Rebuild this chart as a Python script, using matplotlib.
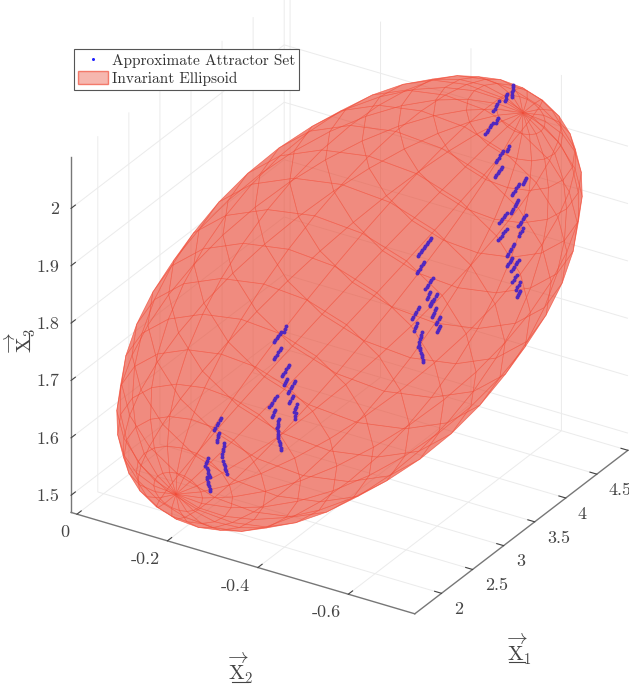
import numpy as np
import matplotlib
matplotlib.use('Agg')
import matplotlib.pyplot as plt
from matplotlib.patches import Patch
from matplotlib.lines import Line2D

plt.rcParams['font.family'] = ['cmr10', 'DejaVu Sans']
plt.rcParams['mathtext.fontset'] = 'cm'
plt.rcParams['axes.unicode_minus'] = False
plt.rcParams['axes.formatter.use_mathtext'] = True
plt.rcParams['grid.color'] = '#ebebeb'
plt.rcParams['grid.linewidth'] = 0.7

center = [3.285, -0.367, 1.78]
axis_a = [0.0, -0.322, -0.071]
axis_b = [-0.6, -0.205, 0.26]
axis_c = [1.3, -0.205, 0.272]
mesh_phase_deg = 5.7
x1_ticks = [2, 2.5, 3, 3.5, 4, 4.5, 5]
x2_ticks = [0, -0.2, -0.4, -0.6]
x3_ticks = [1.5, 1.6, 1.7, 1.8, 1.9, 2]
x2_labels = ['0', '-0.2', '-0.4', '-0.6']
x1_labels = ['2', '2.5', '3', '3.5', '4', '4.5', '5']
x3_labels = ['1.5', '1.6', '1.7', '1.8', '1.9', '2']

attractor_x1 = [
2.809,2.802,2.794,2.772,2.761,2.751,2.740,2.730,2.719,2.772,2.761,2.751,2.740,2.730,2.719,2.832,2.821,2.811,2.800,2.790,2.779,
2.817,2.809,2.802,2.794,2.877,2.866,2.856,2.845,2.835,2.824,2.862,2.852,2.842,2.832,2.892,2.884,2.877,2.869,2.884,2.880,2.877,
2.742,2.730,2.718,2.706,2.694,2.682,2.727,2.719,2.712,2.704,2.757,2.753,2.749,2.746,2.742,2.742,2.746,2.749,2.749,2.753,2.757,2.761,2.764,2.768,2.772,
2.322,2.312,2.301,2.291,2.280,2.270,2.307,2.303,2.300,2.296,2.292,2.345,2.342,2.339,2.336,2.333,2.330,2.337,2.343,2.349,2.355,2.361,2.367,
2.225,2.217,2.210,2.202,2.217,2.223,2.228,2.234,2.240,2.217,2.221,2.225,2.228,2.232,2.236,2.240,
3.903,3.896,3.888,3.933,3.925,3.918,3.911,3.903,3.963,3.953,3.943,3.933,3.963,3.956,3.948,3.941,3.806,3.795,3.785,3.774,3.764,3.753,
3.791,3.783,3.776,3.768,3.828,3.823,3.818,3.813,3.808,3.803,3.798,3.813,3.817,3.821,3.825,3.828,3.832,3.836,
4.510,4.509,4.507,4.506,4.504,4.503,4.465,4.460,4.455,4.450,4.405,4.394,4.383,4.372,4.360,4.398,4.390,4.383,4.360,4.348,4.336,4.324,4.312,4.300,
4.480,4.473,4.465,4.435,4.425,4.414,4.404,4.393,4.383,4.428,4.417,4.407,4.396,4.386,4.375,4.608,4.600,4.593,4.585,4.555,4.545,4.534,4.524,4.513,4.503,
4.548,4.539,4.530,4.522,4.513,4.504,4.495,4.465,4.453,4.441,4.429,4.417,4.405,4.608,4.596,4.584,4.572,4.560,4.548,4.585,4.575,4.565,4.555,
4.465,4.452,4.438,4.425,4.411,4.398,4.518,4.507,4.497,4.486,4.476,4.465,4.503,4.493,4.484,4.475,4.465,4.555,4.543,4.531,4.519,4.507,4.495,
4.540,4.528,4.515,4.503,4.563,4.553,4.543,4.533,4.563,4.555,4.548,4.540,
3.896,3.885,3.874,3.863,3.853,3.842,3.831,3.820,3.809,3.798,3.843,3.833,3.822,3.812,3.801,3.791,3.911,3.899,3.887,3.875,3.863,3.851,3.888,3.881,3.873,3.866,3.941,3.930,3.920,3.909,3.899,3.888]

attractor_x2 = [
-0.2920,-0.2908,-0.2896,-0.2861,-0.2844,-0.2828,-0.2811,-0.2795,-0.2778,-0.2861,-0.2844,-0.2828,-0.2811,-0.2795,-0.2778,-0.2955,-0.2939,-0.2922,-0.2906,-0.2889,-0.2872,
-0.2932,-0.2920,-0.2908,-0.2896,-0.3026,-0.3010,-0.2993,-0.2976,-0.2960,-0.2943,-0.3002,-0.2987,-0.2971,-0.2955,-0.3050,-0.3038,-0.3026,-0.3014,-0.3038,-0.3032,-0.3026,
-0.2813,-0.2795,-0.2776,-0.2757,-0.2738,-0.2719,-0.2790,-0.2778,-0.2766,-0.2754,-0.2837,-0.2831,-0.2825,-0.2819,-0.2813,-0.2813,-0.2819,-0.2825,-0.2825,-0.2831,-0.2837,-0.2843,-0.2849,-0.2855,-0.2861,
-0.2152,-0.2135,-0.2119,-0.2102,-0.2085,-0.2069,-0.2128,-0.2122,-0.2116,-0.2110,-0.2104,-0.2187,-0.2182,-0.2178,-0.2173,-0.2168,-0.2163,-0.2175,-0.2185,-0.2194,-0.2204,-0.2213,-0.2223,
-0.1998,-0.1986,-0.1974,-0.1963,-0.1986,-0.1995,-0.2004,-0.2013,-0.2022,-0.1986,-0.1992,-0.1998,-0.2004,-0.2010,-0.2016,-0.2022,
-0.4645,-0.4633,-0.4621,-0.4692,-0.4680,-0.4669,-0.4657,-0.4645,-0.4740,-0.4724,-0.4708,-0.4692,-0.4740,-0.4728,-0.4716,-0.4704,-0.4491,-0.4475,-0.4458,-0.4442,-0.4425,-0.4409,
-0.4468,-0.4456,-0.4444,-0.4432,-0.4527,-0.4519,-0.4511,-0.4503,-0.4495,-0.4487,-0.4480,-0.4503,-0.4509,-0.4515,-0.4521,-0.4527,-0.4533,-0.4539,
-0.5602,-0.5600,-0.5597,-0.5595,-0.5593,-0.5590,-0.5531,-0.5523,-0.5516,-0.5508,-0.5437,-0.5419,-0.5401,-0.5384,-0.5366,-0.5425,-0.5413,-0.5401,-0.5366,-0.5347,-0.5328,-0.5309,-0.5290,-0.5271,
-0.5555,-0.5543,-0.5531,-0.5484,-0.5467,-0.5451,-0.5434,-0.5418,-0.5401,-0.5472,-0.5456,-0.5439,-0.5423,-0.5406,-0.5389,-0.5756,-0.5744,-0.5732,-0.5720,-0.5673,
-0.5657,-0.5640,-0.5623,-0.5607,-0.5590,-0.5661,-0.5647,-0.5634,-0.5620,-0.5606,-0.5592,-0.5579,-0.5531,-0.5512,-0.5493,-0.5475,-0.5456,-0.5437,-0.5756,-0.5737,-0.5718,-0.5699,-0.5680,-0.5661,
-0.5720,-0.5705,-0.5689,-0.5673,-0.5531,-0.5510,-0.5489,-0.5467,-0.5446,-0.5425,-0.5614,-0.5597,-0.5581,-0.5564,-0.5548,-0.5531,-0.5590,-0.5576,-0.5561,-0.5546,-0.5531,
-0.5673,-0.5654,-0.5635,-0.5616,-0.5597,-0.5579,-0.5649,-0.5630,-0.5610,-0.5590,-0.5685,-0.5669,-0.5653,-0.5638,-0.5685,-0.5673,-0.5661,-0.5649,
-0.4633,-0.4616,-0.4599,-0.4582,-0.4565,-0.4548,-0.4531,-0.4514,-0.4497,-0.4480,-0.4550,-0.4534,-0.4517,-0.4501,-0.4484,-0.4468,-0.4657,-0.4638,-0.4619,-0.4600,-0.4581,-0.4562,
-0.4621,-0.4610,-0.4598,-0.4586,-0.4704,-0.4688,-0.4671,-0.4654,-0.4638,-0.4621]

attractor_x3 = [
1.7629,1.7580,1.7531,1.7542,1.7512,1.7482,1.7452,1.7422,1.7392,1.7263,1.7229,1.7196,1.7162,1.7129,1.7095,1.6939,1.6905,1.6872,1.6838,1.6805,1.6771,
1.6702,1.6670,1.6639,1.6608,1.6639,1.6602,1.6565,1.6528,1.6491,1.6454,1.6385,1.6349,1.6312,1.6276,1.6231,1.6188,1.6145,1.6102,1.6078,1.6027,1.5977,
1.6440,1.6407,1.6375,1.6342,1.6309,1.6276,1.6203,1.6166,1.6129,1.6092,1.6032,1.5995,1.5957,1.5920,1.5882,1.5882,1.5828,1.5774,1.5740,1.5697,1.5655,1.5612,1.5570,1.5528,1.5485,
1.6252,1.6215,1.6178,1.6141,1.6104,1.6067,1.5997,1.5960,1.5922,1.5885,1.5847,1.5805,1.5758,1.5711,1.5663,1.5616,1.5568,1.5495,1.5447,1.5399,1.5351,1.5303,1.5255,
1.5600,1.5557,1.5514,1.5471,1.5429,1.5387,1.5345,1.5303,1.5262,1.5272,1.5230,1.5187,1.5145,1.5102,1.5060,1.5018,
1.7557,1.7525,1.7494,1.7421,1.7385,1.7349,1.7314,1.7278,1.7250,1.7214,1.7178,1.7142,1.7093,1.7062,1.7031,1.6999,1.7497,1.7460,1.7424,1.7387,1.7350,1.7313,
1.7226,1.7183,1.7140,1.7097,1.7051,1.7010,1.6969,1.6928,1.6886,1.6845,1.6804,1.6779,1.6737,1.6695,1.6652,1.6610,1.6567,1.6525,
2.1040,2.0998,2.0957,2.0916,2.0875,2.0834,2.0904,2.0865,2.0827,2.0789,2.0809,2.0771,2.0733,2.0694,2.0656,2.0517,2.0477,2.0436,2.0447,2.0414,2.0381,2.0349,2.0316,2.0283,
1.9990,1.9950,1.9910,1.9924,1.9891,1.9857,1.9824,1.9790,1.9757,1.9649,1.9619,1.9589,1.9559,1.9529,1.9499,1.9374,1.9342,1.9311,1.9279,1.9293,1.9260,1.9226,1.9193,1.9159,1.9126,
1.9018,1.8984,1.8951,1.8917,1.8883,1.8849,1.8816,1.8830,1.8800,1.8771,1.8742,1.8712,1.8683,1.8729,1.8696,1.8663,1.8630,1.8598,1.8565,1.8513,1.8471,1.8429,1.8387,
1.8551,1.8519,1.8487,1.8455,1.8422,1.8390,1.8265,1.8228,1.8191,1.8154,1.8117,1.8080,1.8028,1.7997,1.7967,1.7936,1.7906,1.7969,1.7936,1.7903,1.7870,1.7838,1.7805,
1.7714,1.7679,1.7645,1.7610,1.7582,1.7540,1.7498,1.7456,1.7425,1.7394,1.7362,1.7331,
1.8658,1.8628,1.8599,1.8569,1.8539,1.8509,1.8479,1.8449,1.8420,1.8390,1.8264,1.8231,1.8197,1.8164,1.8130,1.8097,1.7954,1.7921,1.7889,1.7856,1.7823,1.7790,1.7721,1.7683,1.7646,1.7609,1.7661,1.7624,1.7587,1.7551,1.7514,1.7477]

fig = plt.figure(figsize=(6.29, 6.87), dpi=100)
W = 680.0
ax = fig.add_axes([0.3/629, 34.3/687, W/629, W/687], projection='3d')
ax.set_proj_type('ortho')
ax.view_init(elev=28.4, azim=-148.2)
ax.set_box_aspect((1, 1, 1))
ax.computed_zorder = False
ax.set_xlim(1.57, 5)
ax.set_ylim(-0.747, 0.013)
ax.set_zlim(1.47, 2.09)

u = np.linspace(0, 2*np.pi, 21) + np.deg2rad(mesh_phase_deg)
v = np.linspace(0, np.pi, 21)
U, V = np.meshgrid(u, v)
C, A, B, P = map(np.array, (center, axis_a, axis_b, axis_c))
X = [C[i] + A[i]*np.cos(U)*np.sin(V) + B[i]*np.sin(U)*np.sin(V) + P[i]*np.cos(V) for i in range(3)]
face = (233/255, 75/255, 55/255, 0.40)
edge = (245/255, 75/255, 55/255, 0.42)
ax.plot_surface(X[0], X[1], X[2], color=face, edgecolor=edge, linewidth=0.5, shade=False, rstride=1, cstride=1, zorder=1)
ax.scatter(attractor_x1, attractor_x2, attractor_x3, s=8, color='#5028c0', depthshade=False, zorder=2, linewidths=0)

ax.set_xticks(x1_ticks); ax.set_xticklabels(x1_labels, ha='left', va='center')
ax.set_yticks(x2_ticks); ax.set_yticklabels(x2_labels, ha='right', va='center')
ax.set_zticks(x3_ticks); ax.set_zticklabels(x3_labels, ha='right', va='center')
ax.tick_params(labelsize=13, colors='#444444', pad=1)
ax.tick_params(axis='z', pad=-2.5)
ax.zaxis._axinfo['tickdir'] = 1
for a in (ax.xaxis, ax.yaxis, ax.zaxis):
    a.set_pane_color((1, 1, 1, 0))
    a.pane.set_edgecolor((1, 1, 1, 0))
    a.line.set_color('#777777')
    a.line.set_linewidth(1.0)
    a._axinfo['tick']['inward_factor'] = 0.0
    a._axinfo['tick']['outward_factor'] = 0.25
    a._axinfo['tick']['linewidth'] = {True: 0.8, False: 0.5}
    a._axinfo['tick']['color'] = '#666666'

def lab(xp, yp, s, rot=0):
    fig.text(xp/629, 1-yp/687, s, fontsize=15, color='#444444', ha='center', va='center', rotation=rot)
lab(519, 649, r'$\overrightarrow{\mathrm{X}}_1$')
lab(241, 668, r'$\overrightarrow{\mathrm{X}}_2$')
lab(20, 340, r'$\overrightarrow{\mathrm{X}}_3$', 90)
for (x0, y0, x1, y1) in [(509, 662, 525, 662), (232, 682, 248, 682), (29, 349, 29, 333)]:
    fig.add_artist(Line2D([x0/629, x1/629], [1-y0/687, 1-y1/687], color='#444444', lw=0.8))

h = [Line2D([], [], ls='', marker='o', ms=2.2, color='#2020ff', mew=0),
     Patch(facecolor=(233/255, 75/255, 55/255, 0.40), edgecolor=(240/255, 70/255, 50/255, 0.65))]
leg = fig.legend(h, ['Approximate Attractor Set', 'Invariant Ellipsoid'], loc='upper left',
           bbox_to_anchor=(74/629, 1-49/687), bbox_transform=fig.transFigure, fancybox=False, framealpha=1,
           edgecolor='#555555', fontsize=11.05, borderpad=0.25, labelspacing=0.25, handlelength=1.95, handleheight=0.9, handletextpad=0.25, borderaxespad=0)
leg.get_frame().set_linewidth(0.8)
for t in leg.get_texts():
    t.set_color('#333333')

fig.savefig('out.png', dpi=100)
